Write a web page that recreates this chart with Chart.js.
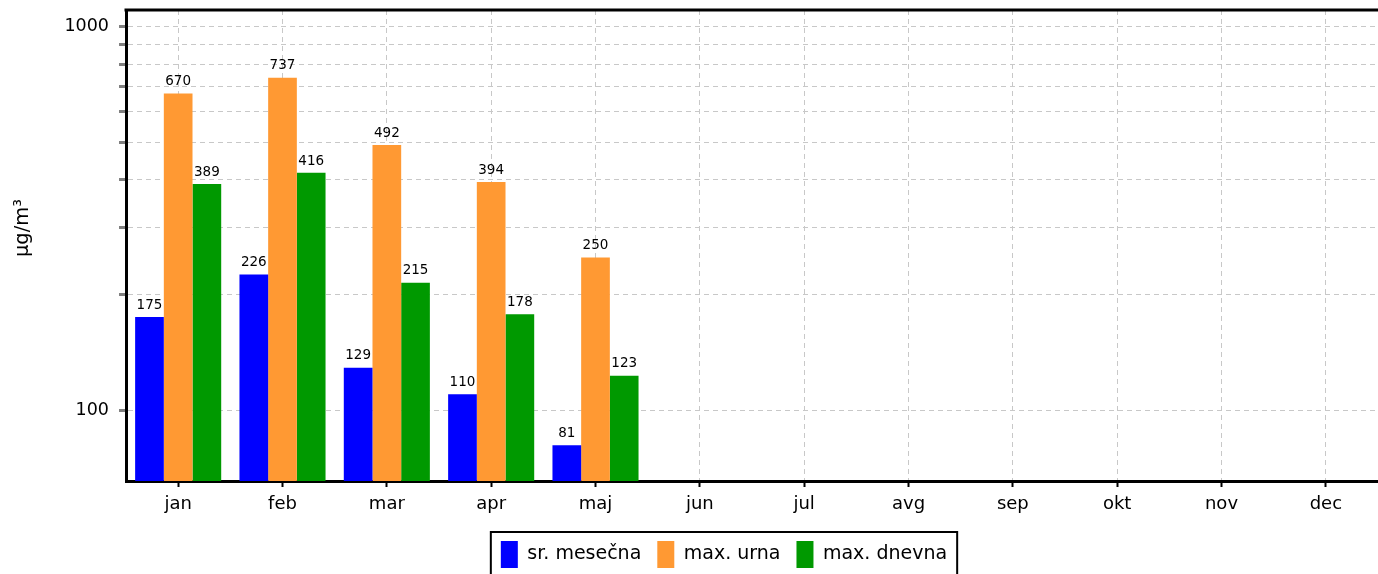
<!DOCTYPE html>
<html>
<head>
<meta charset="utf-8">
<script src="https://cdn.jsdelivr.net/npm/chart.js@4"></script>
<style>
  html, body { margin: 0; padding: 0; background: #fff; }
  #wrap { width: 1378px; height: 574px; position: relative; }
</style>
</head>
<body>
<div id="wrap"><canvas id="chart"></canvas></div>
<script>
// Monthly concentrations (log scale)
const months = ['jan', 'feb', 'mar', 'apr', 'maj', 'jun', 'jul', 'avg', 'sep', 'okt', 'nov', 'dec'];
const srMesecna = [175, 226, 129, 110, 81, null, null, null, null, null, null, null];
const maxUrna = [670, 737, 492, 394, 250, null, null, null, null, null, null, null];
const maxDnevna = [389, 416, 215, 178, 123, null, null, null, null, null, null, null];
const yTicks = [100, 200, 300, 400, 500, 600, 700, 800, 900, 1000];
const yLabelled = [100, 1000];
const yTitle = 'µg/m³';

const FONT = "'DejaVu Sans', sans-serif";

// value labels, axis title, top frame line and legend border
const extras = {
  id: 'extras',
  afterLayout(chart) {
    // shift legend a bit right to match the original layout
    chart.legend.left += 35;
    chart.legend.right += 35;
  },
  afterDatasetsDraw(chart) {
    const ctx = chart.ctx;
    ctx.save();
    ctx.font = '13.5px ' + FONT;
    ctx.fillStyle = '#000';
    ctx.textAlign = 'center';
    ctx.textBaseline = 'bottom';
    chart.data.datasets.forEach((ds, i) => {
      const meta = chart.getDatasetMeta(i);
      meta.data.forEach((bar, j) => {
        const v = ds.data[j];
        if (v == null) return;
        ctx.fillText(String(v), bar.x, bar.y - 5);
      });
    });
    ctx.restore();
  },
  afterDraw(chart) {
    const ctx = chart.ctx;
    const area = chart.chartArea;
    ctx.save();
    ctx.strokeStyle = '#000';
    ctx.lineWidth = 3;
    ctx.beginPath();
    ctx.moveTo(area.left - 1.5, area.top);
    ctx.lineTo(area.right + 2, area.top);
    ctx.stroke();

    const boxes = chart.legend.legendHitBoxes;
    if (boxes && boxes.length) {
      const first = boxes[0];
      const last = boxes[boxes.length - 1];
      ctx.lineWidth = 2;
      ctx.strokeRect(first.left - 10, first.top - 9, last.left + last.width - first.left + 20, first.height + 20);
    }

    // y axis title
    ctx.translate(23, 228);
    ctx.rotate(-Math.PI / 2);
    ctx.font = '19.5px ' + FONT;
    ctx.fillStyle = '#000';
    ctx.textAlign = 'center';
    ctx.textBaseline = 'middle';
    ctx.fillText(yTitle, 0, 0);
    ctx.restore();
  }
};

new Chart(document.getElementById('chart'), {
  type: 'bar',
  data: {
    labels: months,
    datasets: [
      { label: 'sr. mesečna', data: srMesecna, backgroundColor: '#0000ff', borderWidth: 0 },
      { label: 'max. urna', data: maxUrna, backgroundColor: '#ff9933', borderWidth: 0 },
      { label: 'max. dnevna', data: maxDnevna, backgroundColor: '#009900', borderWidth: 0 }
    ]
  },
  options: {
    responsive: true,
    maintainAspectRatio: false,
    animation: false,
    barPercentage: 1,
    categoryPercentage: 0.825,
    layout: { padding: { top: 10, right: 0, bottom: -4, left: 0 } },
    plugins: {
      legend: {
        position: 'bottom',
        labels: {
          color: '#000',
          font: { family: FONT, size: 19 },
          boxWidth: 17,
          boxHeight: 27,
          padding: 16
        }
      },
      tooltip: { enabled: false }
    },
    scales: {
      x: {
        afterFit: s => { s.height = 44; },
        ticks: {
          color: '#000',
          font: { family: FONT, size: 18 },
          padding: 7,
          maxRotation: 0
        },
        grid: {
          offset: false,
          color: '#c8c8c8',
          lineWidth: 1,
          tickColor: '#000',
          tickLength: 6,
          tickWidth: 2,
          tickBorderDash: []
        },
        border: { display: true, color: '#000', width: 3, dash: [5, 4] }
      },
      y: {
        type: 'logarithmic',
        min: 65.3,
        max: 1107,
        afterFit: s => { s.width = 126; s.paddingTop = 0; s.paddingBottom = 0; },
        afterBuildTicks: s => { s.ticks = yTicks.map(v => ({ value: v })); },
        ticks: {
          color: '#000',
          font: { family: FONT, size: 17.5 },
          padding: 10,
          callback: v => (yLabelled.includes(v) ? String(v) : '')
        },
        grid: {
          color: '#c8c8c8',
          lineWidth: 1,
          tickColor: '#808080',
          tickLength: 7,
          tickWidth: 3,
          tickBorderDash: []
        },
        border: { display: true, color: '#000', width: 3, dash: [5, 4] }
      }
    }
  },
  plugins: [extras]
});
</script>
</body>
</html>
